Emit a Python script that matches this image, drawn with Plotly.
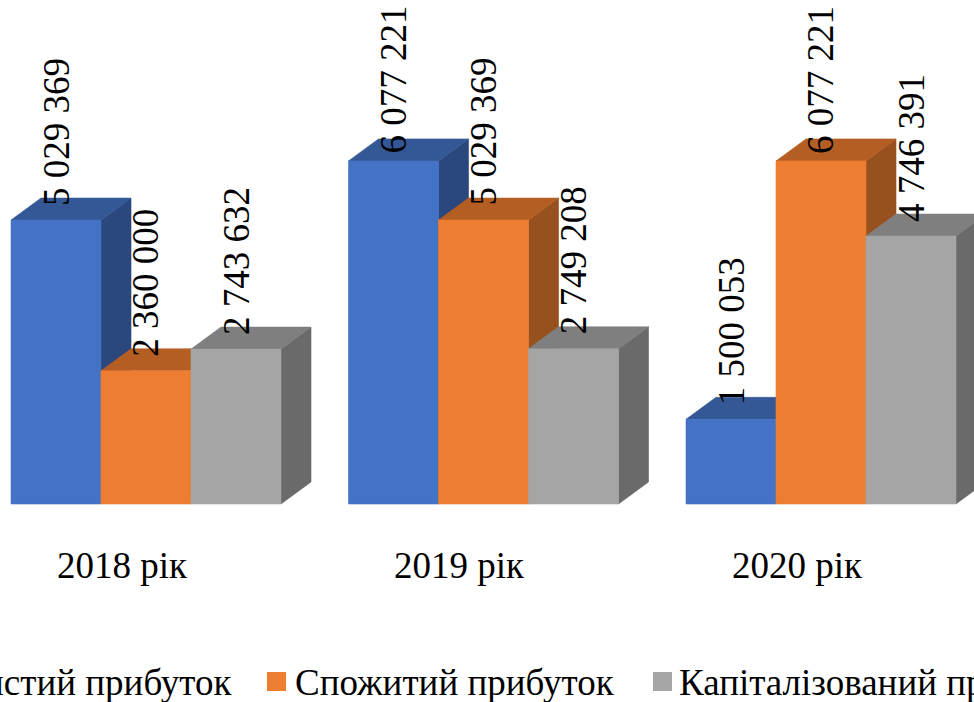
import plotly.graph_objects as go

# ---- data ----
categories = ["2018 рік", "2019 рік", "2020 рік"]
series_names = ["Чистий прибуток", "Спожитий прибуток", "Капіталізований прибуток"]
net_profit = [5029369, 6077221, 1500053]
consumed_profit = [2360000, 5029369, 6077221]
capitalized_profit = [2743632, 2749208, 4746391]
series_values = [net_profit, consumed_profit, capitalized_profit]

# ---- styling ----
front_colors = ["#4472C4", "#ED7D31", "#A5A5A5"]
top_colors = ["#345896", "#B55E23", "#7F7F7F"]
side_colors = ["#2A487D", "#97511E", "#6A6A6A"]
FONT = "'Liberation Serif', 'Times New Roman', 'DejaVu Serif', serif"
FS = 37

W, H = 974, 702
PX_PER_UNIT = 90.0          # bar width in pixels
PX_PER_VAL = 56.45e-6       # pixels per value unit
BASE_PX = 504               # baseline pixel row
LEFT_PX = 11                # left of first bar
GROUP_STEP = 3.75           # group spacing in bar widths
DX = 30 / PX_PER_UNIT       # depth offset in x units
DY = 22 / PX_PER_VAL        # depth offset in value units
LABEL_GAP = 12              # gap between bar top and its label
LABEL_LEN = 152             # approx rotated label box length (px)
LABEL_TOP_MIN = 4           # labels are kept inside the chart area

x_range = [-LEFT_PX / PX_PER_UNIT, (W - LEFT_PX) / PX_PER_UNIT]
y_range = [-(H - BASE_PX) / PX_PER_VAL, BASE_PX / PX_PER_VAL]

fig = go.Figure()

def poly(xs, ys, color):
    fig.add_trace(go.Scatter(
        x=xs + [xs[0]], y=ys + [ys[0]], mode="lines", fill="toself",
        fillcolor=color, line=dict(color=color, width=0.6),
        hoverinfo="skip", showlegend=False))

annotations = []
for g, cat in enumerate(categories):
    for s in range(len(series_values)):
        h = series_values[s][g]
        x0 = g * GROUP_STEP + s
        x1 = x0 + 1
        # side face
        poly([x1, x1 + DX, x1 + DX, x1], [0, DY, h + DY, h], side_colors[s])
        # top face
        poly([x0, x1, x1 + DX, x0 + DX], [h, h, h + DY, h + DY], top_colors[s])
        # front face
        poly([x0, x1, x1, x0], [0, 0, h, h], front_colors[s])
        label = f"{h:,}".replace(",", " ")
        top_px = BASE_PX - h * PX_PER_VAL
        shift = min(LABEL_GAP, top_px - LABEL_TOP_MIN - LABEL_LEN)
        annotations.append(dict(
            x=x0 + 0.5, y=h, xref="x", yref="y", text=label, showarrow=False,
            textangle=-90, xanchor="center", yanchor="bottom", yshift=shift,
            font=dict(family=FONT, size=FS, color="black")))
    # category label
    annotations.append(dict(
        x=g * GROUP_STEP + 1.5 - 24 / PX_PER_UNIT, y=0, xref="x", yref="y",
        text=cat, showarrow=False, xanchor="center", yanchor="middle",
        yshift=-61.5, font=dict(family=FONT, size=FS, color="black")))

# ---- custom legend (wider than the canvas, as in the reference) ----
legend_y = 1 - 682 / H
sq = 19
legend_text_left = [None, 293, 677]
legend_square_left = [None, 267, 653]
first_text_right = 234
first_text_width = 280
legend_text_left[0] = first_text_right - first_text_width
legend_square_left[0] = legend_text_left[0] - 26

shapes = []
for i, name in enumerate(series_names):
    annotations.append(dict(
        x=legend_text_left[i] / W, y=legend_y, xref="paper", yref="paper",
        text=name, showarrow=False, xanchor="left", yanchor="middle",
        font=dict(family=FONT, size=FS, color="black")))
    if i == 0:
        annotations[-1].update(x=first_text_right / W, xanchor="right")
    shapes.append(dict(
        type="rect", xref="paper", yref="paper",
        x0=legend_square_left[i] / W, x1=(legend_square_left[i] + sq) / W,
        y0=1 - 691 / H, y1=1 - 672 / H,
        fillcolor=front_colors[i], line=dict(width=0)))

fig.update_layout(
    width=W, height=H, margin=dict(l=0, r=0, t=0, b=0),
    paper_bgcolor="white", plot_bgcolor="white", showlegend=False,
    xaxis=dict(range=x_range, visible=False, fixedrange=True),
    yaxis=dict(range=y_range, visible=False, fixedrange=True),
    annotations=annotations, shapes=shapes,
)

fig.write_html("out.html",
               config={"displayModeBar": False, "staticPlot": True},
               post_script="document.body.style.margin='0';document.body.style.overflow='hidden';")
